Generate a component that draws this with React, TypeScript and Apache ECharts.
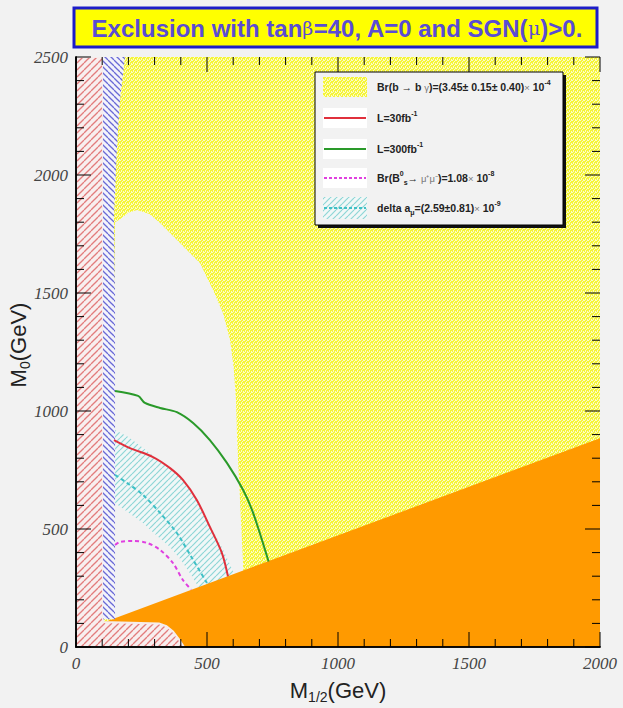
import React, { useEffect, useRef } from "react";
import * as echarts from "echarts";

// ---- data (GeV) ----
const xTickValues = [0, 500, 1000, 1500, 2000];
const yTickValues = [0, 500, 1000, 1500, 2000, 2500];
const minorStep = 100;

// whole plane (b -> s gamma allowed / yellow texture)
const yellowRegion: number[][] = [[0, 0], [0, 2500], [2000, 2500], [2000, 0]];
// light (non excluded by b->s gamma) region
const grayRegion: number[][] = [
  [149, 0], [149, 1800], [168, 1812], [200, 1840], [233, 1852], [280, 1835], [321, 1797],
  [397, 1712], [473, 1627], [523, 1513], [561, 1415], [588, 1301], [602, 1180], [611, 1040],
  [615, 880], [626, 623], [637, 369], [645, 0],
];
// delta a_mu band
const amuBand: number[][] = [
  [149, 920], [200, 890], [260, 840], [300, 805], [360, 757], [410, 705], [460, 625],
  [510, 520], [560, 415], [600, 320], [630, 250],
  [500, 180], [470, 250], [435, 313], [400, 370], [359, 424], [300, 480], [256, 525],
  [200, 570], [149, 610],
];
// charged LSP / no EWSB (orange wedge)
const orangeRegion: number[][] = [[105, 104], [2000, 885], [2000, 0], [105, 0]];
// red hatched theoretically excluded
const redRegion: number[][] = [
  [0, 0], [0, 2500], [103, 2500], [103, 106], [317, 100], [345, 88], [370, 66], [393, 32], [412, 0],
];
// blue hatched (LEP) band
const blueRegion: number[][] = [
  [103, 118], [103, 2500], [187, 2500], [168, 2318], [156, 2106], [145, 1820], [149, 1500], [149, 118],
];

const lumi30: number[][] = [
  [145, 877], [206, 843], [294, 805], [359, 758], [408, 708], [461, 623], [511, 509], [557, 398], [580, 300],
];
const lumi300: number[][] = [
  [149, 1085], [237, 1064], [263, 1034], [321, 1013], [385, 995], [447, 949], [511, 877],
  [576, 780], [638, 665], [676, 568], [735, 362],
];
const bsmumu: number[][] = [
  [149, 432], [168, 445], [218, 449], [271, 441], [321, 411], [370, 356], [408, 284], [440, 243],
];
const amuCentral: number[][] = [
  [149, 729], [195, 695], [256, 644], [321, 568], [385, 483], [447, 369], [500, 271],
];

const BG = "#f2f2f2";

function hatch(size: number, bg: string, fg: string, dir: string, lw: number) {
  const c = document.createElement("canvas");
  c.width = size;
  c.height = size;
  const g = c.getContext("2d")!;
  g.fillStyle = bg;
  g.fillRect(0, 0, size, size);
  g.strokeStyle = fg;
  g.lineWidth = lw;
  for (let k = -1; k <= 1; k++) {
    g.beginPath();
    if (dir === "/") {
      g.moveTo(k * size, size);
      g.lineTo(k * size + size, 0);
    } else {
      g.moveTo(k * size, 0);
      g.lineTo(k * size + size, size);
    }
    g.stroke();
  }
  return { image: c.toDataURL(), repeat: "repeat", imageWidth: size, imageHeight: size };
}

function yellowTexture() {
  const c = document.createElement("canvas");
  c.width = 4;
  c.height = 4;
  const g = c.getContext("2d")!;
  g.fillStyle = "#f5f538";
  g.fillRect(0, 0, 4, 4);
  g.fillStyle = "#fcfcc4";
  [[0, 0], [2, 1], [1, 2], [3, 3], [3, 0], [1, 3]].forEach(([x, y]) => g.fillRect(x, y, 1, 1));
  return { image: c.toDataURL(), repeat: "repeat", imageWidth: 4, imageHeight: 4 };
}

function polySeries(name: string, pts: number[][], style: any, z: number) {
  return {
    type: "custom",
    name,
    z,
    silent: true,
    clip: true,
    coordinateSystem: "cartesian2d",
    data: [[0, 0]],
    renderItem: (_p: any, api: any) => ({
      type: "polygon",
      shape: { points: pts.map((p) => api.coord(p)) },
      style,
    }),
  };
}

function lineSeries(name: string, pts: number[][], color: string, dashed: boolean) {
  return {
    type: "line",
    name,
    z: 20,
    silent: true,
    data: pts,
    smooth: 0.3,
    symbol: "none",
    lineStyle: { color, width: 2, type: dashed ? [4, 3] : "solid" },
  };
}

// inward ROOT-style ticks on all four sides, placed through the axis scales
function tickSeries() {
  const xMin = xTickValues[0];
  const xMax = xTickValues[xTickValues.length - 1];
  const yMin = yTickValues[0];
  const yMax = yTickValues[yTickValues.length - 1];
  return {
    type: "custom",
    name: "ticks",
    z: 40,
    silent: true,
    clip: false,
    coordinateSystem: "cartesian2d",
    data: [[0, 0]],
    renderItem: (_p: any, api: any) => {
      const children: any[] = [];
      const st = { stroke: "#000", lineWidth: 1 };
      for (let v = xMin; v <= xMax; v += minorStep) {
        const major = v % 500 === 0;
        const lb = major ? 15 : 8;
        const b = api.coord([v, yMin]);
        const t = api.coord([v, yMax]);
        children.push({ type: "line", shape: { x1: b[0], y1: b[1], x2: b[0], y2: b[1] - lb }, style: st });
        children.push({ type: "line", shape: { x1: t[0], y1: t[1], x2: t[0], y2: t[1] + lb }, style: st });
      }
      for (let v = yMin; v <= yMax; v += minorStep) {
        const major = v % 500 === 0;
        const lb = major ? 15 : 8;
        const l = api.coord([xMin, v]);
        const r = api.coord([xMax, v]);
        children.push({ type: "line", shape: { x1: l[0], y1: l[1], x2: l[0] + lb, y2: l[1] }, style: st });
        children.push({ type: "line", shape: { x1: r[0], y1: r[1], x2: r[0] - lb, y2: r[1] }, style: st });
      }
      return { type: "group", children };
    },
  };
}

export default function App() {
  const ref = useRef<HTMLDivElement>(null);
  useEffect(() => {
    const chart = echarts.init(ref.current!, null, { renderer: "svg" });
    const yellowPat = yellowTexture();
    const redPat = hatch(7, "#f8eeee", "#e27c7c", "/", 1.3);
    const bluePat = hatch(6, "#f3f3fa", "#6a6ad6", "\\", 1.3);
    const cyanPat = hatch(6, "#f1f7f7", "#8ed6d6", "/", 1.2);
    const cyanPat2 = hatch(6, "#f1f7f7", "#8ed6d6", "/", 1.2);
    const yellowPat2 = yellowTexture();

    const axisCommon = {
      type: "value",
      z: 30,
      axisLine: { show: true, lineStyle: { color: "#000", width: 1.5 } },
      axisTick: { show: false },
      minorTick: { show: false },
      splitLine: { show: false },
    };
    const labelStyle = {
      fontFamily: "Liberation Serif",
      fontStyle: "italic",
      fontSize: 17,
      color: "#444",
      formatter: (v: number) => String(v),
    };

    const legendX = 315;
    const legendY = 72;
    const rowY = [87, 118, 149, 178, 208];
    const textX = 377;
    const txtStyle = { fontFamily: "Liberation Sans", fontWeight: "bold", fontSize: 10.5, fill: "#222" };
    const rich = {
      a: { fontFamily: "Liberation Sans", fontWeight: "bold", fontSize: 10.5, fill: "#222", lineHeight: 16 },
      g: { fontFamily: "Liberation Sans", fontSize: 9.5, fill: "#777", lineHeight: 16 },
      sup: { fontFamily: "Liberation Sans", fontWeight: "bold", fontSize: 7, fill: "#222", lineHeight: 9, verticalAlign: "top" },
      sub: { fontFamily: "Liberation Sans", fontWeight: "bold", fontSize: 7, fill: "#222", lineHeight: 9, verticalAlign: "bottom" },
    };
    const legendText = (y: number, text: string) => ({
      type: "text",
      z: 101,
      x: textX,
      y,
      style: { ...txtStyle, text, rich, verticalAlign: "middle", align: "left" },
    });

    const option: any = {
      animation: false,
      backgroundColor: BG,
      grid: { left: 76, right: 23, top: 57, bottom: 61, containLabel: false },
      xAxis: [
        {
          ...axisCommon,
          min: xTickValues[0],
          max: xTickValues[xTickValues.length - 1],
          interval: 500,
          position: "bottom",
          axisLabel: { ...labelStyle, margin: 8 },
        },
        {
          ...axisCommon,
          min: xTickValues[0],
          max: xTickValues[xTickValues.length - 1],
          interval: 500,
          position: "top",
          axisLabel: { show: false },
        },
      ],
      yAxis: [
        {
          ...axisCommon,
          min: yTickValues[0],
          max: yTickValues[yTickValues.length - 1],
          interval: 500,
          position: "left",
          axisLabel: { ...labelStyle, margin: 8 },
        },
        {
          ...axisCommon,
          min: yTickValues[0],
          max: yTickValues[yTickValues.length - 1],
          interval: 500,
          position: "right",
          axisLabel: { show: false },
        },
      ],
      series: [
        polySeries("bsg", yellowRegion, { fill: yellowPat }, 1),
        polySeries("allowed", grayRegion, { fill: BG }, 2),
        polySeries("amu band", amuBand, { fill: cyanPat }, 3),
        polySeries("orange", orangeRegion, { fill: "#ff9a00" }, 4),
        polySeries("theory", redRegion, { fill: redPat, stroke: "#f6ecec", lineWidth: 2 }, 5),
        polySeries("lep", blueRegion, { fill: bluePat }, 6),
        lineSeries("L=30fb-1", lumi30, "#e0303c", false),
        lineSeries("L=300fb-1", lumi300, "#2a9a2a", false),
        lineSeries("Bs", bsmumu, "#e040e0", true),
        lineSeries("amu", amuCentral, "#3ec0c6", true),
        tickSeries(),
      ],
      graphic: [
        // title
        {
          type: "rect",
          z: 100,
          shape: { x: 74, y: 8, width: 523, height: 39 },
          style: { fill: "#ffff00", stroke: "#1c1cc8", lineWidth: 3 },
        },
        {
          type: "text",
          z: 101,
          x: 337,
          y: 28,
          style: {
            text: "{t|Exclusion with tan}{g|β}{t|=40, A=0 and SGN(}{g|μ}{t|)>0.}",
            align: "center",
            verticalAlign: "middle",
            rich: {
              t: { fontFamily: "Liberation Sans", fontWeight: "bold", fontSize: 24, fill: "#5a4cd4" },
              g: { fontFamily: "DejaVu Serif", fontSize: 19, fill: "#5a4cd4" },
            },
          },
        },
        // axis titles
        {
          type: "text",
          z: 101,
          x: 338,
          y: 690,
          style: {
            text: "{m|M}{s|1/2}{m|(GeV)}",
            align: "center",
            verticalAlign: "middle",
            rich: {
              m: { fontFamily: "Liberation Sans", fontSize: 22, fill: "#222", lineHeight: 28 },
              s: { fontFamily: "Liberation Sans", fontSize: 14, fill: "#222", lineHeight: 14, verticalAlign: "bottom" },
            },
          },
        },
        {
          type: "text",
          z: 101,
          x: 18,
          y: 345,
          rotation: Math.PI / 2,
          style: {
            text: "{m|M}{s|0}{m|(GeV)}",
            align: "center",
            verticalAlign: "middle",
            rich: {
              m: { fontFamily: "Liberation Sans", fontSize: 22, fill: "#222", lineHeight: 28 },
              s: { fontFamily: "Liberation Sans", fontSize: 14, fill: "#222", lineHeight: 14, verticalAlign: "bottom" },
            },
          },
        },
        // legend
        {
          type: "rect",
          z: 99,
          shape: { x: legendX + 3, y: legendY + 3, width: 248, height: 153 },
          style: { fill: "#111" },
        },
        {
          type: "rect",
          z: 100,
          shape: { x: legendX, y: legendY, width: 248, height: 153 },
          style: { fill: "#f2f2f2", stroke: "#000", lineWidth: 1 },
        },
        { type: "rect", z: 101, shape: { x: 323, y: 77, width: 44, height: 20 }, style: { fill: yellowPat2 } },
        { type: "rect", z: 101, shape: { x: 323, y: 108, width: 44, height: 20 }, style: { fill: "#fff" } },
        { type: "line", z: 102, shape: { x1: 324, y1: rowY[1], x2: 366, y2: rowY[1] }, style: { stroke: "#e0303c", lineWidth: 2 } },
        { type: "rect", z: 101, shape: { x: 323, y: 139, width: 44, height: 20 }, style: { fill: "#fff" } },
        { type: "line", z: 102, shape: { x1: 324, y1: rowY[2], x2: 366, y2: rowY[2] }, style: { stroke: "#2a9a2a", lineWidth: 2 } },
        { type: "rect", z: 101, shape: { x: 323, y: 168, width: 44, height: 20 }, style: { fill: "#fff" } },
        { type: "line", z: 102, shape: { x1: 324, y1: rowY[3], x2: 366, y2: rowY[3] }, style: { stroke: "#e040e0", lineWidth: 2, lineDash: [3, 2] } },
        { type: "rect", z: 101, shape: { x: 323, y: 197, width: 44, height: 22 }, style: { fill: cyanPat2 } },
        { type: "line", z: 102, shape: { x1: 324, y1: rowY[4], x2: 366, y2: rowY[4] }, style: { stroke: "#3ec0c6", lineWidth: 2, lineDash: [3, 2] } },
        legendText(rowY[0], "{a|Br(b → b }{g|γ}{a|)=(3.45± 0.15± 0.40)}{g|×}{a| 10}{sup|-4}"),
        legendText(rowY[1], "{a|L=30fb}{sup|-1}"),
        legendText(rowY[2], "{a|L=300fb}{sup|-1}"),
        legendText(rowY[3], "{a|Br(B}{sup|0}{sub|s}{a|→ }{g|μ⁺μ⁻}{a|)=1.08}{g|×}{a| 10}{sup|-8}"),
        legendText(rowY[4], "{a|delta a}{sub|μ}{a|=(2.59±0.81)}{g|×}{a| 10}{sup|-9}"),
      ],
    };
    chart.setOption(option);
    return () => chart.dispose();
  }, []);
  return (
    <div
      ref={ref}
      style={{ position: "fixed", left: 0, top: 0, width: 623, height: 708, background: BG }}
    />
  );
}
